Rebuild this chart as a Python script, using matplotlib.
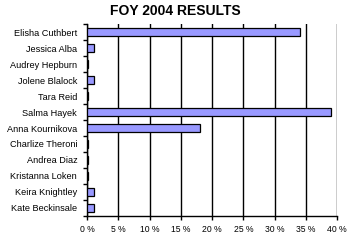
import numpy as np
import matplotlib
matplotlib.use('Agg')
import matplotlib.pyplot as plt

# Noms et pourcentages
noms = ['Elisha Cuthbert', 'Jessica Alba', 'Audrey Hepburn', 'Jolene Blalock',
        'Tara Reid', 'Salma Hayek', 'Anna Kournikova', 'Charlize Theroni',
        'Andrea Diaz', 'Kristanna Loken', 'Keira Knightley', 'Kate Beckinsale']
pourcentages = [34.1, 1.1, 0.2, 1.1, 0.2, 39.0, 18.1, 0.2, 0.2, 0.2, 1.1, 1.1]
graduations = [0, 5, 10, 15, 20, 25, 30, 35, 40]

plt.rcParams['font.family'] = ['Liberation Sans', 'DejaVu Sans']

fig = plt.figure(figsize=(3.51, 2.41), dpi=100)
ax = fig.add_axes([0.2476, 0.104, 0.961 - 0.2476, 0.796])

y = np.arange(len(noms))
ax.barh(y, pourcentages, height=0.55, color='#9999ff', edgecolor='black',
        linewidth=0.9, zorder=3)

ax.set_xlim(0, 40)
ax.set_ylim(len(noms) - 0.5, -0.5)
ax.set_xticks(graduations)
ax.set_xticklabels([f'{g} %' for g in graduations], fontsize=6.2)
ax.set_yticks(y)
ax.set_yticklabels(noms, fontsize=6.6)
ax.set_yticks(np.arange(len(noms) + 1) - 0.5, minor=True)
ax.tick_params(axis='y', which='major', length=0, pad=7)
ax.tick_params(axis='y', which='minor', length=3, width=1, direction='out')
ax.tick_params(axis='x', length=3, width=1, direction='out', pad=3.5)
ax.grid(axis='x', color='black', linewidth=1, zorder=0)

for cote in ['top', 'right']:
    ax.spines[cote].set_visible(False)
for cote in ['left', 'bottom']:
    ax.spines[cote].set_linewidth(1)

fig.suptitle('FOY 2004 RESULTS', x=0.5, y=0.985, fontsize=10, fontweight='bold')

fig.savefig('out.png', dpi=100)
